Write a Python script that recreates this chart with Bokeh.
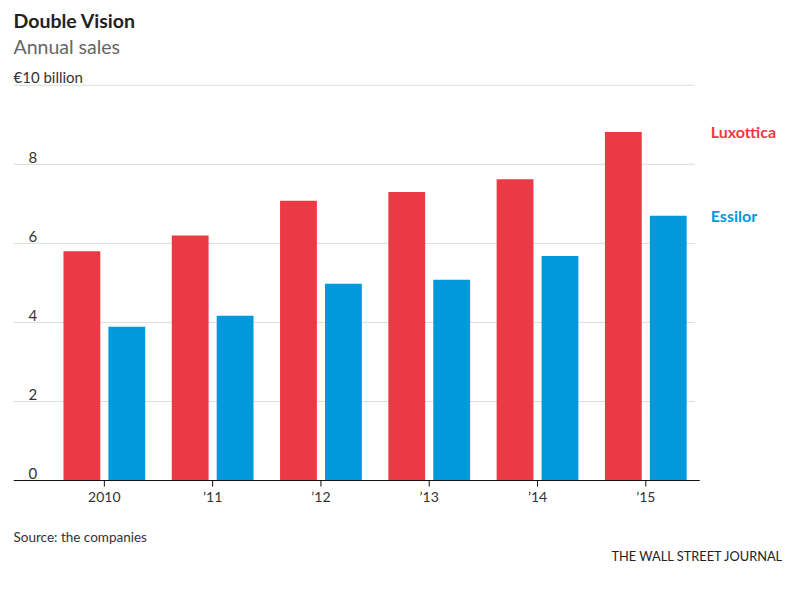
from bokeh.plotting import figure
from bokeh.models import Range1d
from bokeh.core.properties import value
from bokeh.embed import file_html
from bokeh.resources import INLINE
import numpy as np

# ---- data ----
years = ["2010", "\u201911", "\u201912", "\u201913", "\u201914", "\u201915"]
luxottica = [5.80, 6.20, 7.08, 7.30, 7.62, 8.82]
essilor = [3.89, 4.17, 4.98, 5.08, 5.68, 6.70]
y_ticks = [0, 2, 4, 6, 8]
grid_ticks = [2, 4, 6, 8, 10]
unit_label = "\u20ac10 billion"
series_names = ["Luxottica", "Essilor"]
title_text = "Double Vision"
subtitle_text = "Annual sales"
source_text = "Source: the companies"
credit_text = "THE WALL STREET JOURNAL"

FONT = "Lato"
RED = "#EC3A45"
BLUE = "#0099DA"

idx = np.arange(len(years))
x_start, x_end = -0.839, 6.29      # frame spans plot + right-hand label area
grid_end = 5.452                    # gridlines stop before the labels
axis_end = 5.498
unit_px = 39.52                     # pixels per €1 billion
top_px = 480                        # baseline distance from top of canvas
footer_px = 100                     # room below the baseline
y_top = top_px / unit_px
y_bottom = -footer_px / unit_px

p = figure(frame_width=772, frame_height=top_px + footer_px,
           x_range=Range1d(x_start, x_end), y_range=Range1d(y_bottom, y_top),
           output_backend="svg", toolbar_location=None,
           min_border_left=13, min_border_right=5, min_border_top=0, min_border_bottom=0)
p.outline_line_color = None
p.background_fill_color = "white"
p.border_fill_color = "white"
p.xgrid.visible = False
p.ygrid.visible = False
p.yaxis.visible = False
p.xaxis.visible = False

# gridlines
p.segment(x0=[x_start] * len(grid_ticks), y0=grid_ticks, x1=[grid_end] * len(grid_ticks),
          y1=grid_ticks, line_color="#dcdcdc", line_width=1)

bar_w = 0.34
off = 0.2075
p.vbar(x=idx - off, top=luxottica, width=bar_w, fill_color=RED, line_color=None)
p.vbar(x=idx + off, top=essilor, width=bar_w, fill_color=BLUE, line_color=None)

# baseline + category ticks
p.segment(x0=[x_start], y0=[0], x1=[axis_end], y1=[0], line_color="#111111", line_width=1.2)
p.ray(x=idx, y=[0] * len(idx), length=6, length_units="screen", angle=-np.pi / 2,
      line_color="#111111", line_width=1)
p.text(x=idx, y=[0] * len(idx), text=years, y_offset=16, text_align="center",
       text_baseline="middle", text_font=value(FONT), text_font_size="14px",
       text_color="#333333")

# y labels inside plot
p.text(x=[x_start] * len(y_ticks), y=y_ticks, text=[str(t) for t in y_ticks],
       x_offset=15, y_offset=-7, text_align="left", text_baseline="middle",
       text_font=value(FONT), text_font_size="15px", text_color="#333333")
p.text(x=[x_start], y=[grid_ticks[-1]], text=[unit_label],
       x_offset=0, y_offset=-8, text_align="left", text_baseline="middle",
       text_font=value(FONT), text_font_size="15px", text_color="#333333")

# series labels
last = idx[-1]
p.text(x=[last + 0.6, last + 0.6], y=[luxottica[-1], essilor[-1]], text=series_names,
       text_align="left", text_baseline="middle", text_font=value(FONT),
       text_font_size="16px", text_font_style="bold", text_color=[RED, BLUE])

# header (offsets in pixels from the top gridline)
p.text(x=[x_start], y=[grid_ticks[-1]], text=[title_text], y_offset=-65, text_align="left",
       text_baseline="middle", text_font=value(FONT), text_font_size="19.5px",
       text_font_style="bold", text_color="#222222")
p.text(x=[x_start], y=[grid_ticks[-1]], text=[subtitle_text], y_offset=-39, text_align="left",
       text_baseline="middle", text_font=value(FONT), text_font_size="19.5px",
       text_color="#666666")

# footer (offsets in pixels from the baseline)
p.text(x=[x_start], y=[0], text=[source_text], y_offset=56, text_align="left",
       text_baseline="middle", text_font=value(FONT), text_font_size="13.5px",
       text_color="#333333")
p.text(x=[x_end], y=[0], text=[credit_text], x_offset=-2, y_offset=75, text_align="right",
       text_baseline="middle", text_font=value(FONT), text_font_size="12.8px",
       text_color="#222222")

open("out.html", "w").write(file_html(p, INLINE))
